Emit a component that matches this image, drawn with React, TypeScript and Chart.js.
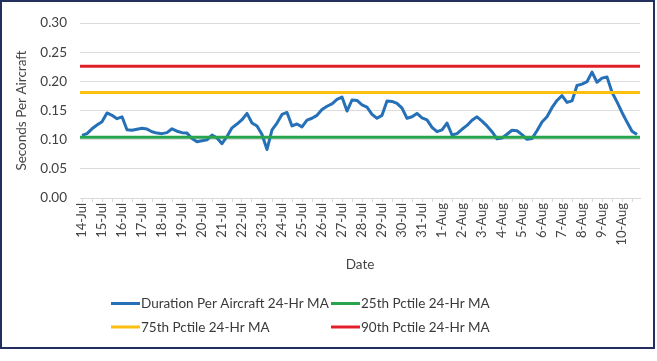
import React, { useEffect, useRef } from 'react';
import { Chart, registerables } from 'chart.js';

Chart.register(...registerables);

// ---- Data ----
const DAY_LABELS = [
  '14-Jul', '15-Jul', '16-Jul', '17-Jul', '18-Jul', '19-Jul', '20-Jul', '21-Jul',
  '22-Jul', '23-Jul', '24-Jul', '25-Jul', '26-Jul', '27-Jul', '28-Jul', '29-Jul',
  '30-Jul', '31-Jul', '1-Aug', '2-Aug', '3-Aug', '4-Aug', '5-Aug', '6-Aug',
  '7-Aug', '8-Aug', '9-Aug', '10-Aug',
];
const HOURS = [0, 6, 12, 18];

// 24-hr moving average, sampled every 6 hours (4 per day)
const DURATION_MA = [
  0.1075, 0.1104, 0.1187, 0.1253,
  0.1310, 0.1459, 0.1418, 0.1360,
  0.1393, 0.1170, 0.1162, 0.1179,
  0.1195, 0.1182, 0.1137, 0.1113,
  0.1104, 0.1121, 0.1187, 0.1146,
  0.1121, 0.1113, 0.1022, 0.0964,
  0.0981, 0.0997, 0.1080, 0.1030,
  0.0931, 0.1055, 0.1203, 0.1269,
  0.1343, 0.1451, 0.1286, 0.1236,
  0.1088, 0.0832, 0.1170, 0.1286,
  0.1434, 0.1467, 0.1236, 0.1269,
  0.1220, 0.1335, 0.1368, 0.1418,
  0.1517, 0.1574, 0.1615, 0.1690,
  0.1731, 0.1492, 0.1681, 0.1673,
  0.1599, 0.1558, 0.1434, 0.1368,
  0.1418, 0.1665, 0.1657, 0.1624,
  0.1541, 0.1368, 0.1393, 0.1451,
  0.1376, 0.1340, 0.1212, 0.1137,
  0.1170, 0.1286, 0.1080, 0.1104,
  0.1179, 0.1245, 0.1335, 0.1393,
  0.1319, 0.1236, 0.1137, 0.1014,
  0.1030, 0.1093, 0.1162, 0.1154,
  0.1088, 0.1006, 0.1022, 0.1154,
  0.1302, 0.1393, 0.1549, 0.1673,
  0.1756, 0.1640, 0.1665, 0.1929,
  0.1953, 0.1995, 0.2160, 0.1986,
  0.2056, 0.2077, 0.1813, 0.1648,
  0.1467, 0.1302, 0.1146, 0.1088,
];

const P25_MA = 0.104;
const P75_MA = 0.181;
const P90_MA = 0.226;

const SERIES_NAMES = [
  'Duration Per Aircraft 24-Hr MA',
  '25th Pctile 24-Hr MA',
  '75th Pctile 24-Hr MA',
  '90th Pctile 24-Hr MA',
];
const SERIES_COLORS = ['#2570b6', '#27a44c', '#fcbf12', '#e3202a'];

const Y_MIN = 0;
const Y_MAX = 0.3;
const Y_STEP = 0.05;

const X_MIN = -0.1;
const X_MAX = 27.9;

const FONT_FAMILY = 'Lato, "Open Sans", sans-serif';

const gridLegendPlugin = {
  id: 'gridLegend',
  afterDraw(chart: any, _args: any, opts: any) {
    const ctx = chart.ctx;
    ctx.save();
    chart.data.datasets.forEach((ds: any, i: number) => {
      const col = i % 2;
      const row = Math.floor(i / 2);
      const x = opts.columns[col];
      const y = opts.rows[row];
      ctx.strokeStyle = ds.borderColor;
      ctx.lineWidth = 3;
      ctx.beginPath();
      ctx.moveTo(x, y);
      ctx.lineTo(x + opts.sampleWidth, y);
      ctx.stroke();
      ctx.fillStyle = opts.color;
      ctx.font = opts.font;
      ctx.textBaseline = 'middle';
      ctx.textAlign = 'left';
      ctx.fillText(ds.label, x + opts.sampleWidth + 1, y + 0.5);
    });
    ctx.restore();
  },
};

export default function App() {
  const canvasRef = useRef<HTMLCanvasElement | null>(null);

  useEffect(() => {
    if (!canvasRef.current) return;
    const durationPoints = DURATION_MA.map((v, i) => ({
      x: Math.floor(i / HOURS.length) + HOURS[i % HOURS.length] / 24,
      y: v,
    }));
    const flat = (v: number) => [
      { x: X_MIN, y: v },
      { x: X_MAX, y: v },
    ];

    const chart = new Chart(canvasRef.current, {
      type: 'line',
      data: {
        datasets: [
          {
            label: SERIES_NAMES[0],
            data: durationPoints,
            borderColor: SERIES_COLORS[0],
            backgroundColor: SERIES_COLORS[0],
            borderWidth: 3,
            pointRadius: 0,
            tension: 0,
            borderJoinStyle: 'round',
            order: 1,
          },
          {
            label: SERIES_NAMES[1],
            data: flat(P25_MA),
            borderColor: SERIES_COLORS[1],
            backgroundColor: SERIES_COLORS[1],
            borderWidth: 3,
            pointRadius: 0,
            order: 0,
          },
          {
            label: SERIES_NAMES[2],
            data: flat(P75_MA),
            borderColor: SERIES_COLORS[2],
            backgroundColor: SERIES_COLORS[2],
            borderWidth: 3,
            pointRadius: 0,
            order: 0,
          },
          {
            label: SERIES_NAMES[3],
            data: flat(P90_MA),
            borderColor: SERIES_COLORS[3],
            backgroundColor: SERIES_COLORS[3],
            borderWidth: 3,
            pointRadius: 0,
            order: 0,
          },
        ],
      },
      options: {
        animation: false,
        responsive: true,
        maintainAspectRatio: false,
        layout: { padding: { left: 8, right: 13, top: 14, bottom: 74 } },
        plugins: {
          legend: { display: false },
          tooltip: { enabled: false },
          gridLegend: {
            columns: [109, 329],
            rows: [301.5, 325],
            sampleWidth: 29,
            font: `13.5px ${FONT_FAMILY}`,
            color: '#3a3a3a',
          },
        } as any,
        scales: {
          x: {
            type: 'linear',
            min: X_MIN,
            max: X_MAX,
            afterBuildTicks: (axis: any) => {
              const ticks: any[] = [];
              DAY_LABELS.forEach((_, d) => {
                ticks.push({ value: d });
                if (d + 0.5 <= X_MAX) ticks.push({ value: d + 0.5 });
              });
              axis.ticks = ticks;
            },
            afterFit: (axis: any) => {
              axis.height = 75;
            },
            ticks: {
              autoSkip: false,
              minRotation: 90,
              maxRotation: 90,
              padding: 1,
              color: '#454545',
              font: { family: FONT_FAMILY, size: 13 },
              callback: (value: any) =>
                Number.isInteger(value) ? DAY_LABELS[value] ?? '' : '',
            },
            grid: {
              drawOnChartArea: false,
              drawTicks: true,
              tickLength: 4,
              color: '#d9d9d9',
            },
            border: { display: true, color: '#d9d9d9', width: 1 },
            title: {
              display: true,
              text: 'Date',
              color: '#454545',
              font: { family: FONT_FAMILY, size: 13.5 },
              padding: { top: 0, bottom: 0 },
            },
          },
          y: {
            min: Y_MIN,
            max: Y_MAX,
            afterFit: (axis: any) => {
              axis.width = 70;
            },
            ticks: {
              stepSize: Y_STEP,
              padding: 13,
              color: '#404040',
              font: { family: FONT_FAMILY, size: 13.5 },
              callback: (value: any) => Number(value).toFixed(2),
            },
            grid: {
              color: '#dcdcdc',
              lineWidth: 1,
              drawTicks: false,
            },
            border: { display: false },
            title: {
              display: true,
              text: 'Seconds Per Aircraft',
              color: '#454545',
              font: { family: FONT_FAMILY, size: 13.5 },
              padding: { top: 4, bottom: 0 },
            },
          },
        },
      },
      plugins: [gridLegendPlugin],
    });
    return () => chart.destroy();
  }, []);

  return (
    <div
      style={{
        position: 'absolute',
        left: 0,
        top: 0,
        width: 655,
        height: 349,
        boxSizing: 'border-box',
        border: '2px solid #232f5f',
        background: '#ffffff',
      }}
    >
      <div style={{ position: 'relative', width: 651, height: 345 }}>
        <canvas ref={canvasRef} />
      </div>
    </div>
  );
}
